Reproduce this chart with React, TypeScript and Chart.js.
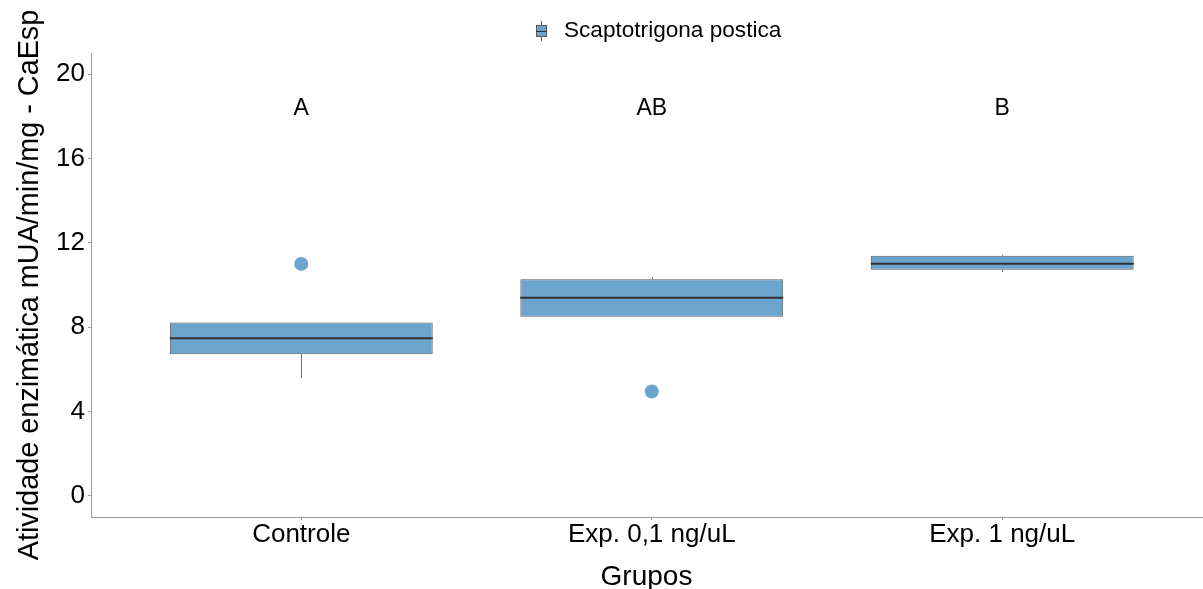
import React, { useEffect, useRef } from "react";
import { Chart, registerables } from "chart.js";

Chart.register(...registerables);

// ---- data ----
const groups = ["Controle", "Exp. 0,1 ng/uL", "Exp. 1 ng/uL"];
const groupPositions = [1, 2, 3];
const q1 = [6.72, 8.5, 10.72];
const q3 = [8.22, 10.27, 11.39];
const medians = [7.48, 9.39, 11.01];
const whiskerLow = [5.58, 8.5, 10.62];
const whiskerHigh = [8.22, 10.37, 11.44];
const outlierX = [1, 2];
const outlierY = [11.0, 4.95];
const letters = ["A", "AB", "B"];
const letterY = 18.37;
const yTicks = [0, 4, 8, 12, 16, 20];
const seriesName = "Scaptotrigona postica";
const yTitle = "Atividade enzimática mUA/min/mg - CaEsp";
const xTitle = "Grupos";

const FONT = "'Liberation Sans', Arial, sans-serif";
const FILL = "#6ba5ce";
const BOX_BORDER = "#5a5a5a";
const WHISKER = "#707070";
const MEDIAN = "#333333";
const AXIS = "#9a9a9a";

const boxExtras = {
  id: "boxExtras",
  beforeDatasetsDraw(chart: any) {
    const { ctx, scales } = chart;
    const x = scales.x;
    const y = scales.y;
    ctx.save();
    ctx.strokeStyle = WHISKER;
    ctx.lineWidth = 1;
    groupPositions.forEach((p, i) => {
      const cx = Math.round(x.getPixelForValue(p)) + 0.5;
      ctx.beginPath();
      ctx.moveTo(cx, y.getPixelForValue(q3[i]));
      ctx.lineTo(cx, y.getPixelForValue(whiskerHigh[i]));
      ctx.moveTo(cx, y.getPixelForValue(q1[i]));
      ctx.lineTo(cx, y.getPixelForValue(whiskerLow[i]));
      ctx.stroke();
    });
    ctx.restore();
  },
  afterDatasetsDraw(chart: any) {
    const { ctx, scales } = chart;
    const x = scales.x;
    const y = scales.y;
    const meta = chart.getDatasetMeta(0);
    ctx.save();
    ctx.strokeStyle = MEDIAN;
    ctx.lineWidth = 2;
    meta.data.forEach((bar: any, i: number) => {
      const w = bar.width;
      const cx = x.getPixelForValue(groupPositions[i]);
      const my = y.getPixelForValue(medians[i]);
      ctx.beginPath();
      ctx.moveTo(cx - w / 2, my);
      ctx.lineTo(cx + w / 2, my);
      ctx.stroke();
    });
    ctx.restore();
  },
  afterDraw(chart: any) {
    const { ctx, scales } = chart;
    const x = scales.x;
    const y = scales.y;
    ctx.save();
    // significance letters
    ctx.fillStyle = "#000";
    ctx.font = `23px ${FONT}`;
    ctx.textAlign = "center";
    ctx.textBaseline = "middle";
    groupPositions.forEach((p, i) => {
      ctx.fillText(letters[i], x.getPixelForValue(p), y.getPixelForValue(letterY));
    });
    // legend
    const lx = 541;
    const ly = 31;
    ctx.strokeStyle = "#555";
    ctx.lineWidth = 1;
    ctx.beginPath();
    ctx.moveTo(lx + 0.5, ly - 10);
    ctx.lineTo(lx + 0.5, ly - 6);
    ctx.moveTo(lx + 0.5, ly + 6);
    ctx.lineTo(lx + 0.5, ly + 10);
    ctx.stroke();
    ctx.fillStyle = FILL;
    ctx.fillRect(lx - 5, ly - 6, 11, 12);
    ctx.strokeStyle = BOX_BORDER;
    ctx.strokeRect(lx - 5 + 0.5, ly - 6 + 0.5, 10, 11);
    ctx.strokeStyle = MEDIAN;
    ctx.beginPath();
    ctx.moveTo(lx - 5, ly + 0.5);
    ctx.lineTo(lx + 6, ly + 0.5);
    ctx.stroke();
    ctx.fillStyle = "#000";
    ctx.font = `22.6px ${FONT}`;
    ctx.textAlign = "left";
    ctx.textBaseline = "middle";
    ctx.fillText(seriesName, 564, ly);
    ctx.restore();
  },
};

export default function App() {
  const ref = useRef<HTMLCanvasElement | null>(null);

  useEffect(() => {
    document.body.style.margin = "0";
    const canvas = ref.current;
    if (!canvas) return;
    const chart = new Chart(canvas, {
      type: "bar",
      data: {
        datasets: [
          {
            type: "bar",
            label: seriesName,
            data: groupPositions.map((p, i) => ({ x: p, y: [q1[i], q3[i]] })) as any,
            backgroundColor: FILL,
            borderColor: BOX_BORDER,
            borderWidth: 1,
            borderSkipped: false,
            barPercentage: 0.75,
            categoryPercentage: 1,
            order: 2,
          },
          {
            type: "scatter",
            label: "outliers",
            data: outlierX.map((p, i) => ({ x: p, y: outlierY[i] })),
            backgroundColor: FILL,
            borderColor: FILL,
            pointRadius: 7,
            pointBorderWidth: 0,
            order: 1,
          } as any,
        ],
      },
      options: {
        responsive: false,
        animation: false,
        events: [],
        layout: { autoPadding: false, padding: { top: 53, right: 1, left: 0, bottom: 0 } },
        plugins: {
          legend: { display: false },
          tooltip: { enabled: false },
        },
        scales: {
          x: {
            type: "linear",
            min: 0.4,
            max: 3.57,
            offset: false,
            afterBuildTicks: (s: any) => {
              s.ticks = groupPositions.map((v) => ({ value: v }));
            },
            afterFit: (s: any) => {
              s.height = 72;
              s.paddingLeft = 0;
              s.paddingRight = 0;
            },
            grid: {
              display: true,
              offset: false,
              drawOnChartArea: false,
              drawTicks: true,
              tickLength: 3,
              tickColor: AXIS,
              color: AXIS,
            },
            border: { display: true, color: AXIS, width: 1 },
            ticks: {
              padding: -1,
              color: "#000",
              font: { family: FONT, size: 26 },
              maxRotation: 0,
              autoSkip: false,
              callback: (v: any) => groups[groupPositions.indexOf(Number(v))] ?? "",
            },
            title: {
              display: true,
              text: xTitle,
              color: "#000",
              font: { family: FONT, size: 28, lineHeight: 1 },
              padding: { top: 0, bottom: -2 },
            },
          },
          y: {
            type: "linear",
            min: -1,
            max: 21,
            afterBuildTicks: (s: any) => {
              s.ticks = yTicks.map((v) => ({ value: v }));
            },
            afterFit: (s: any) => {
              s.width = 91;
              s.paddingTop = 0;
              s.paddingBottom = 0;
            },
            grid: {
              display: true,
              drawOnChartArea: false,
              drawTicks: true,
              tickLength: 3,
              tickColor: AXIS,
              color: AXIS,
            },
            border: { display: true, color: AXIS, width: 1 },
            ticks: {
              padding: 3,
              color: "#000",
              font: { family: FONT, size: 26 },
            },
            title: {
              display: true,
              text: yTitle,
              color: "#000",
              font: { family: FONT, size: 28.8, lineHeight: 1 },
              padding: { top: 16, bottom: 0 },
            },
          },
        },
      },
      plugins: [boxExtras],
    });
    return () => chart.destroy();
  }, []);

  return (
    <div style={{ width: 1203, height: 589 }}>
      <canvas ref={ref} width={1203} height={589} style={{ display: "block" }} />
    </div>
  );
}
